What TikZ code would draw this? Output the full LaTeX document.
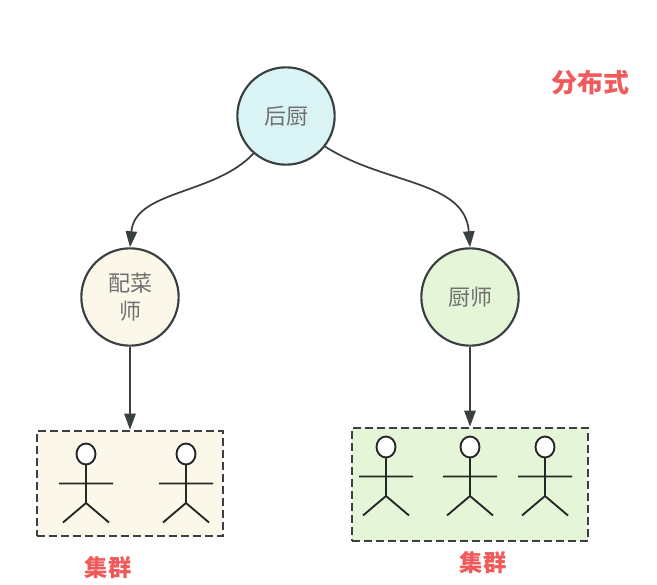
\documentclass[tikz,border=0pt]{standalone}
\usepackage{fontspec}
\usepackage{xcolor}
\usetikzlibrary{arrows.meta}
\newfontfamily\cjk{Noto Sans CJK SC}
\definecolor{linegray}{HTML}{3A3F42}
\definecolor{textgray}{HTML}{707070}
\definecolor{notered}{HTML}{F05A5A}
\definecolor{cyanfill}{HTML}{DAF3F5}
\definecolor{creamfill}{HTML}{FBF8EA}
\definecolor{greenfill}{HTML}{E4F5D8}
\tikzset{
  role/.style={circle, draw=linegray, line width=1.6pt, minimum size=73pt, inner sep=0pt, align=center, text=textgray, font=\cjk\fontsize{16.5}{21}\selectfont},
  team/.style={rectangle, draw=linegray, line width=2pt, dash pattern=on 6pt off 3pt, inner sep=0pt},
  note/.style={text=notered, font=\cjk\bfseries\fontsize{#1}{20}\selectfont},
  note/.default=17.5,
  link/.style={draw=linegray, line width=1.3pt, -{Triangle[length=12pt,width=8.5pt]}},
  actor/.pic={
    \draw[line width=1.4pt, draw=black!85, fill=white] (0,0) ellipse (9.5 and 10.5);
    \draw[line width=1.4pt, draw=black!85] (0,10.5) -- (0,49) (-27,29.5) -- (27,29.5) (-23,68.5) -- (0,49) -- (23,68.5);
  }
}
\begin{document}
\begin{tikzpicture}[x=0.75pt, y=-0.75pt]
  \useasboundingbox (0,0) rectangle (657,585);
  \node[role, fill=cyanfill] (houchu) at (286,116) {后厨};
  \node[role, fill=creamfill] (peicai) at (130,297) {配菜\\师};
  \node[role, fill=greenfill] (chushi) at (470,297) {厨师};
  \node[team, fill=creamfill, minimum width=139.5pt, minimum height=78.75pt] (teamA) at (130,483.5) {};
  \node[team, fill=greenfill, minimum width=177pt, minimum height=84.75pt] (teamB) at (470,484.5) {};
  \draw[link] (houchu.229) .. controls (215,195) and (135,190) .. (peicai.north);
  \draw[link] (houchu.322) .. controls (385,185) and (465,180) .. (chushi.north);
  \draw[link] (peicai.south) -- (teamA.north);
  \draw[link] (chushi.south) -- (teamB.north);
  \pic at (86,454) {actor};
  \pic at (186,454) {actor};
  \pic at (386,447) {actor};
  \pic at (470,447) {actor};
  \pic at (545,447) {actor};
  \node[note=19.5] (fenbu) at (590,83) {分布式};
  \node[note] (jiqunA) at (108,568) {集群};
  \node[note] (jiqunB) at (483,563) {集群};
\end{tikzpicture}
\end{document}
